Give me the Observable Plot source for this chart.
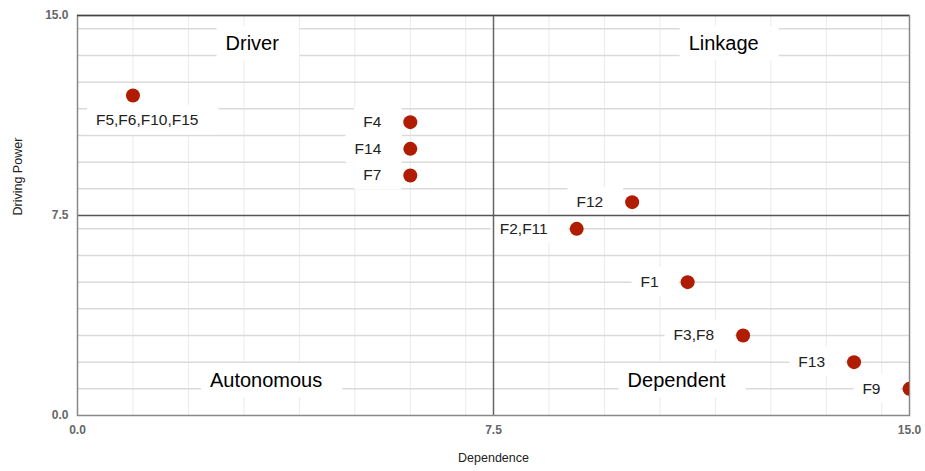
<!DOCTYPE html>
<html>
<head>
<meta charset="utf-8">
<script src="https://cdn.jsdelivr.net/npm/d3@7"></script>
<script src="https://cdn.jsdelivr.net/npm/@observablehq/plot@0.6"></script>
<style>
  html, body { margin: 0; padding: 0; background: #fff; }
  svg { display: block; }
</style>
</head>
<body>
<script>
// ---- data ----
const labels = ["F5,F6,F10,F15", "F4", "F14", "F7", "F12", "F2,F11", "F1", "F3,F8", "F13", "F9"];
const dependence = [1, 6, 6, 6, 10, 9, 11, 12, 14, 15];
const drivingPower = [12, 11, 10, 9, 8, 7, 5, 3, 2, 1];

const quadrantNames = ["Driver", "Linkage", "Autonomous", "Dependent"];
const quadrantX = [3.15, 11.65, 3.4, 10.8];
const quadrantY = [13.95, 13.95, 1.3, 1.3];

const axisTicks = [0, 7.5, 15];
const midValue = 7.5;
const domainMax = 15;
// minor gridlines as drawn in the reference
const hGrid = [1, 2, 3, 4, 5, 6, 7, 8.5, 9.5, 10.5, 11.5, 12.5, 13.5, 14.5];
const vGrid = [1, 2, 3, 4, 5, 6, 7, 8.5, 9.5, 10.5, 11.5, 12.5, 13.5, 14.5];

const points = labels.map((l, i) => ({label: l, x: dependence[i], y: drivingPower[i]}));
const quadrants = quadrantNames.map((n, i) => ({name: n, x: quadrantX[i], y: quadrantY[i]}));
const groupPoint = points.filter(d => d.label.split(",").length > 2);
const singlePoints = points.filter(d => !groupPoint.includes(d));

const font = "'Liberation Sans', Arial, sans-serif";

const chart = Plot.plot({
  width: 925,
  height: 471,
  marginLeft: 77,
  marginRight: 16,
  marginTop: 15,
  marginBottom: 56,
  style: {fontFamily: font, background: "#fff", overflow: "visible"},
  x: {domain: [0, domainMax], ticks: axisTicks, tickFormat: d3.format(".1f"), tickSize: 0, tickPadding: 10, label: null},
  y: {domain: [0, domainMax], ticks: axisTicks, tickFormat: d3.format(".1f"), tickSize: 0, tickPadding: 9, label: null},
  marks: [
    Plot.ruleX(vGrid, {stroke: "#ebebeb", strokeWidth: 1, ariaDescription: "grid"}),
    Plot.ruleY(hGrid, {stroke: "#dadada", strokeWidth: 1.5, ariaDescription: "grid"}),
    Plot.ruleX([midValue], {stroke: "#666", strokeWidth: 1.5, ariaDescription: "midline"}),
    Plot.ruleY([midValue], {stroke: "#555", strokeWidth: 1.5, ariaDescription: "midline"}),
    Plot.frame({stroke: "#888", strokeWidth: 1.5}),
    Plot.ruleY([domainMax], {stroke: "#444", strokeWidth: 1.5}),
    Plot.text(quadrants, {x: "x", y: "y", text: "name", fontSize: 20, fill: "#000", ariaDescription: "boxed"}),
    Plot.text(singlePoints, {x: "x", y: "y", text: "label", textAnchor: "end", dx: -29, fontSize: 15.5, fill: "#222", ariaDescription: "boxed"}),
    Plot.text(groupPoint, {x: "x", y: "y", text: "label", textAnchor: "start", dx: -37, dy: 25, fontSize: 15.5, fill: "#222", ariaDescription: "boxed"}),
    Plot.dot(points, {x: "x", y: "y", r: 7, fill: "#b01c02", stroke: "none", clip: true}),
    Plot.text(["Dependence"], {frameAnchor: "bottom", text: d => d, dy: 46, fontSize: 12.5, fill: "#222"}),
    Plot.text(["Driving Power"], {frameAnchor: "left", text: d => d, dx: -60, rotate: -90, fontSize: 12.5, fill: "#222"})
  ]
});

document.body.appendChild(chart);

// style tick labels
chart.querySelectorAll('g[aria-label="x-axis tick label"], g[aria-label="y-axis tick label"], g[aria-label="x-axis"], g[aria-label="y-axis"]').forEach(g => {
  g.setAttribute("font-size", "12");
  g.setAttribute("fill", "#666");
  g.setAttribute("font-weight", "bold");
});

// white annotation boxes behind labels
try {
  const svgRect = chart.getBoundingClientRect();
  const ns = "http://www.w3.org/2000/svg";
  const boxG = document.createElementNS(ns, "g");
  const wanted = new Set([...labels, ...quadrantNames]);
  let texts = Array.from(chart.querySelectorAll('g[aria-description="boxed"] text'));
  if (!texts.length) texts = Array.from(chart.querySelectorAll("text")).filter(t => wanted.has(t.textContent));
  texts.forEach(t => {
    const r = t.getBoundingClientRect();
    const rect = document.createElementNS(ns, "rect");
    rect.setAttribute("x", r.left - svgRect.left - 9);
    rect.setAttribute("y", r.top - svgRect.top - 6);
    rect.setAttribute("width", r.width + 29);
    rect.setAttribute("height", r.height + 12);
    rect.setAttribute("fill", "#fff");
    boxG.appendChild(rect);
  });
  let anchor = chart.querySelector('g[aria-description="midline"]');
  if (!anchor) {
    const rules = chart.querySelectorAll('g[aria-label="rule"]');
    anchor = rules[2] || null;
  }
  if (anchor) anchor.parentNode.insertBefore(boxG, anchor);
  else {
    const firstText = texts[0] && texts[0].closest("g");
    if (firstText) firstText.parentNode.insertBefore(boxG, firstText);
  }
} catch (e) { console.log(e); }
</script>
</body>
</html>
